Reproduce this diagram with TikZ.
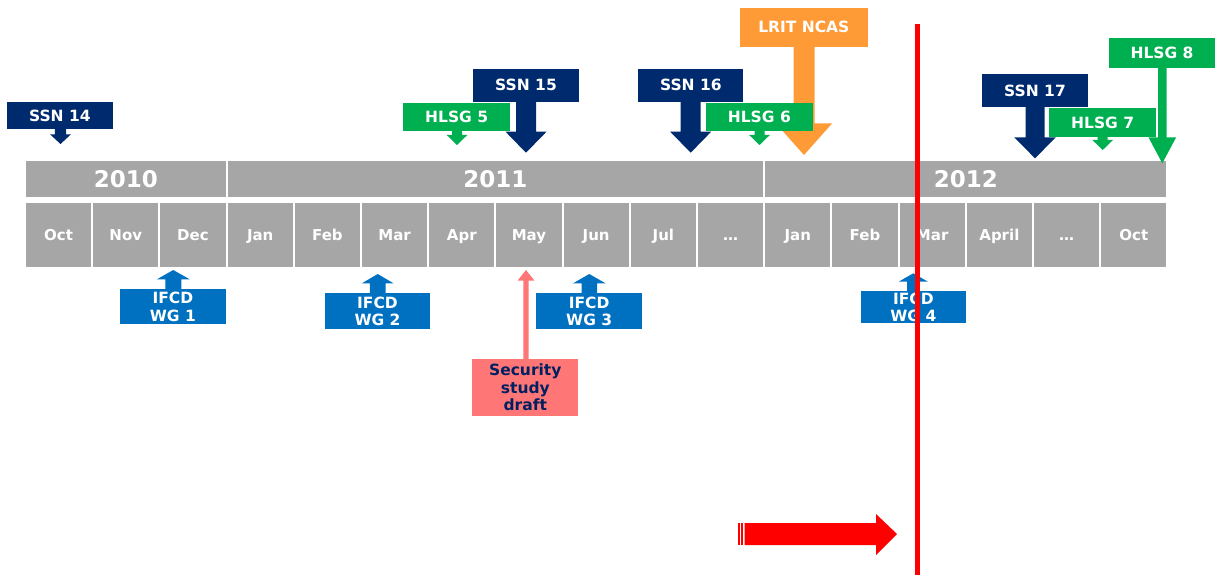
\documentclass[tikz,border=0pt]{standalone}
\usepackage{fontspec}
\setmainfont{DejaVu Sans}
\usetikzlibrary{calc}
\definecolor{tlgray}{HTML}{A6A6A6}
\definecolor{ssnblue}{HTML}{002A6E}
\definecolor{hlsggreen}{HTML}{00B050}
\definecolor{ifcdblue}{HTML}{0070C0}
\definecolor{lritorange}{HTML}{FF9B37}
\definecolor{secpink}{HTML}{FF7676}
\definecolor{secnavy}{HTML}{002060}
\definecolor{nowred}{HTML}{FF0000}
% #1 colour, #2 box node, #3 tip coordinate, #4 head length, #5 shaft width, #6 head width
\newcommand\calldown[6]{%
  \fill[#1] ($(#3 |- #2.south)+(-#5/2,-1)$) -- ($(#3)+(-#5/2,-#4)$) -- ($(#3)+(-#6/2,-#4)$) -- (#3)
    -- ($(#3)+(#6/2,-#4)$) -- ($(#3)+(#5/2,-#4)$) -- ($(#3 |- #2.south)+(#5/2,-1)$) -- cycle;}
\newcommand\callup[6]{%
  \fill[#1] ($(#3 |- #2.north)+(-#5/2,1)$) -- ($(#3)+(-#5/2,#4)$) -- ($(#3)+(-#6/2,#4)$) -- (#3)
    -- ($(#3)+(#6/2,#4)$) -- ($(#3)+(#5/2,#4)$) -- ($(#3 |- #2.north)+(#5/2,1)$) -- cycle;}
\begin{document}
\begin{tikzpicture}[x=1pt,y=-1pt,
  callbox/.style={inner sep=0pt, font=\bfseries\fontsize{15.5}{17.5}\selectfont, text=white, align=center},
  yearbox/.style={fill=tlgray, inner sep=0pt, minimum height=36pt, text=white, text height=17pt, text depth=0pt, font=\bfseries\fontsize{23}{26}\selectfont},
  monthbox/.style={fill=tlgray, inner sep=0pt, minimum width=65.2pt, minimum height=64pt, text=white, text height=11pt, text depth=0pt, font=\bfseries\fontsize{15}{17}\selectfont}]
\useasboundingbox (0,0) rectangle (1215,575);

% timeline
\node[yearbox, minimum width=199.6pt] (y2010) at (125.8,179) {2010};
\node[yearbox, minimum width=535.6pt] (y2011) at (495.4,179) {2011};
\node[yearbox, minimum width=401.2pt] (y2012) at (965.8,179) {2012};
\foreach \m [count=\i from 0] in {Oct,Nov,Dec,Jan,Feb,Mar,Apr,May,Jun,Jul,…,Jan,Feb,Mar,April,…,Oct}
  \node[monthbox] (m\i) at ({58.6+\i*67.2},235) {\m};

% tips
\coordinate (t14) at (60.5,144);
\coordinate (t15) at (526,152.7);
\coordinate (t16) at (690.7,152.7);
\coordinate (t17) at (1035,158.3);
\coordinate (h5) at (457,145);
\coordinate (h6) at (759.5,145);
\coordinate (h7) at (1102.7,150);
\coordinate (h8) at (1162.3,163.3);
\coordinate (tl) at (804,155);
\coordinate (w1) at (173.3,270);
\coordinate (w2) at (377.7,274);
\coordinate (w3) at (589.3,274);
\coordinate (w4) at (913.3,273.3);
\coordinate (ts) at (526,270);

% callouts above
\node[callbox, fill=ssnblue, minimum width=105.7pt, minimum height=27pt] (ssn14) at (59.85,115.8) {SSN 14};
\calldown{ssnblue}{ssn14}{t14}{9.7}{11.4}{21}
\node[callbox, fill=ssnblue, minimum width=106.6pt, minimum height=32.7pt] (ssn15) at (526,85.35) {SSN 15};
\calldown{ssnblue}{ssn15}{t15}{21}{20}{41}
\node[callbox, fill=hlsggreen, minimum width=106.7pt, minimum height=28pt] (hlsg5) at (456.65,116.7) {HLSG 5};
\calldown{hlsggreen}{hlsg5}{h5}{10}{10}{20.6}
\node[callbox, fill=lritorange, minimum width=127.7pt, minimum height=38.7pt] (lrit) at (803.85,27.35) {LRIT NCAS};
\calldown{lritorange}{lrit}{tl}{31.7}{21}{56.4}
\node[callbox, fill=ssnblue, minimum width=105pt, minimum height=32.7pt] (ssn16) at (690.8,85.35) {SSN 16};
\calldown{ssnblue}{ssn16}{t16}{21}{20}{41}
\node[callbox, fill=hlsggreen, minimum width=106.7pt, minimum height=28pt] (hlsg6) at (759.35,116.7) {HLSG 6};
\calldown{hlsggreen}{hlsg6}{h6}{10}{10}{20.6}
\node[callbox, fill=ssnblue, minimum width=106.6pt, minimum height=32.4pt] (ssn17) at (1035,90.5) {SSN 17};
\calldown{ssnblue}{ssn17}{t17}{21}{19}{41.7}
\node[callbox, fill=hlsggreen, minimum width=106.7pt, minimum height=28.4pt] (hlsg7) at (1102.65,122.5) {HLSG 7};
\calldown{hlsggreen}{hlsg7}{h7}{10}{10}{20.6}
\node[callbox, fill=hlsggreen, minimum width=106pt, minimum height=30.6pt] (hlsg8) at (1162,53) {HLSG 8};
\calldown{hlsggreen}{hlsg8}{h8}{26}{8.4}{27.7}

% callouts below
\node[callbox, fill=ifcdblue, minimum width=105.7pt, minimum height=35pt] (wg1) at (172.85,306.8) {IFCD\\WG 1};
\callup{ifcdblue}{wg1}{w1}{9.3}{16}{32.6}
\node[callbox, fill=ifcdblue, minimum width=105pt, minimum height=35.7pt] (wg2) at (377.5,311.15) {IFCD\\WG 2};
\callup{ifcdblue}{wg2}{w2}{9.3}{15.7}{31.6}
\node[callbox, fill=ifcdblue, minimum width=106.3pt, minimum height=35.7pt] (wg3) at (589.15,311.15) {IFCD\\WG 3};
\callup{ifcdblue}{wg3}{w3}{9.3}{15.6}{32.4}
\node[callbox, fill=ifcdblue, minimum width=105.3pt, minimum height=32.3pt] (wg4) at (913.35,307.15) {IFCD\\WG 4};
\callup{ifcdblue}{wg4}{w4}{8.4}{12.3}{29.3}
\node[callbox, fill=secpink, text=secnavy, minimum width=106pt, minimum height=56.7pt] (sec) at (525.3,387.65) {Security\\study\\draft};
\callup{secpink}{sec}{ts}{10.7}{5.4}{17}

% red arrow
\fill[nowred] (738,523) rectangle (740,545);
\fill[nowred] (741,523) rectangle (743,545);
\fill[nowred] (744.5,523) -- (876,523) -- (876,514) -- (897,534) -- (876,555) -- (876,545) -- (744.5,545) -- cycle;

% today line
\coordinate (rtop) at (917.5,24);
\coordinate (rbot) at (917.5,575);
\draw[nowred, line width=4.5pt] (rtop) -- (rbot);
\end{tikzpicture}
\end{document}
